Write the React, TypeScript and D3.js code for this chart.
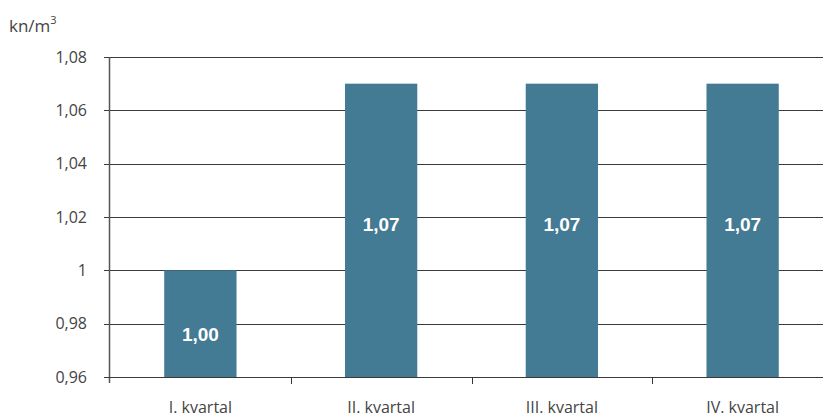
import { useEffect, useRef } from 'react';
import * as d3 from 'd3';

const categories = ['I. kvartal', 'II. kvartal', 'III. kvartal', 'IV. kvartal'];
const values = [1.0, 1.07, 1.07, 1.07];
const yTicks = [0.96, 0.98, 1.0, 1.02, 1.04, 1.06, 1.08];
const yTickLabels = ['0,96', '0,98', '1', '1,02', '1,04', '1,06', '1,08'];
const unitLabel = 'kn/m';

export default function App() {
    const svgRef = useRef<SVGSVGElement>(null);

    useEffect(() => {
        if (!svgRef.current) return;
        const svg = d3.select(svgRef.current);
        svg.selectAll('*').remove();

        const width = 823;
        const left = 110;
        const right = 833;
        const top = 57;
        const bottom = 377;
        const font = '"Open Sans", "Noto Sans", sans-serif';

        const x = d3.scaleBand<string>().domain(categories).range([left, right]).paddingInner(0.6).paddingOuter(0.3);
        const xEdges = d3.scaleLinear().domain([0, categories.length]).range([left, right]);
        const y = d3.scaleLinear().domain([0.96, 1.08]).range([bottom, top]);

        // gridlines
        svg.append('g')
            .selectAll('line')
            .data(yTicks)
            .join('line')
            .attr('x1', left - 6)
            .attr('x2', width)
            .attr('y1', d => Math.round(y(d)) + 0.5)
            .attr('y2', d => Math.round(y(d)) + 0.5)
            .attr('stroke', '#3a3a3a')
            .attr('stroke-width', 1);

        // bars
        svg.append('g')
            .selectAll('rect')
            .data(values)
            .join('rect')
            .attr('x', (d, i) => x(categories[i])!)
            .attr('width', x.bandwidth())
            .attr('y', d => y(d))
            .attr('height', d => y(0.96) - y(d))
            .attr('fill', '#437a94');

        // value labels
        svg.append('g')
            .selectAll('text')
            .data(values)
            .join('text')
            .attr('x', (d, i) => x(categories[i])! + x.bandwidth() / 2)
            .attr('y', d => (y(d) + y(0.96)) / 2)
            .attr('dy', d => (d < 1.03 ? '0.9em' : '0.05em'))
            .attr('text-anchor', 'middle')
            .attr('fill', '#fff')
            .attr('font-family', 'Arial, "Liberation Sans", sans-serif')
            .attr('font-weight', 'bold')
            .attr('font-size', 19)
            .text(d => d.toFixed(2).replace('.', ','));

        // y axis line
        svg.append('line')
            .attr('x1', left - 0.5)
            .attr('x2', left - 0.5)
            .attr('y1', top)
            .attr('y2', bottom + 6)
            .attr('stroke', '#555')
            .attr('stroke-width', 1.5);

        // x axis
        svg.append('line')
            .attr('x1', left - 6)
            .attr('x2', width)
            .attr('y1', bottom + 0.5)
            .attr('y2', bottom + 0.5)
            .attr('stroke', '#3a3a3a');

        svg.append('g')
            .selectAll('line')
            .data(d3.range(1, categories.length))
            .join('line')
            .attr('x1', d => Math.round(xEdges(d)) + 0.5)
            .attr('x2', d => Math.round(xEdges(d)) + 0.5)
            .attr('y1', bottom)
            .attr('y2', bottom + 7)
            .attr('stroke', '#333');

        // y tick labels
        svg.append('g')
            .selectAll('text')
            .data(yTicks)
            .join('text')
            .attr('x', 87)
            .attr('y', d => y(d))
            .attr('dy', '0.36em')
            .attr('text-anchor', 'end')
            .attr('fill', '#444')
            .attr('font-family', font)
            .attr('font-size', 16)
            .text((d, i) => yTickLabels[i]);

        // category labels
        svg.append('g')
            .selectAll('text')
            .data(categories)
            .join('text')
            .attr('x', d => x(d)! + x.bandwidth() / 2)
            .attr('y', 413)
            .attr('text-anchor', 'middle')
            .attr('fill', '#444')
            .attr('font-family', font)
            .attr('font-size', 16)
            .text(d => d);

        // unit label
        const unit = svg.append('text')
            .attr('x', 9)
            .attr('y', 32)
            .attr('fill', '#444')
            .attr('font-family', font)
            .attr('font-size', 17)
            .text(unitLabel);
        unit.append('tspan')
            .attr('dy', -8)
            .attr('font-size', 11)
            .text('3');
    }, []);

    return (
        <svg ref={svgRef} width={823} height={416}
            style={{ position: 'absolute', left: 0, top: 0, background: '#fff' }} />
    );
}
